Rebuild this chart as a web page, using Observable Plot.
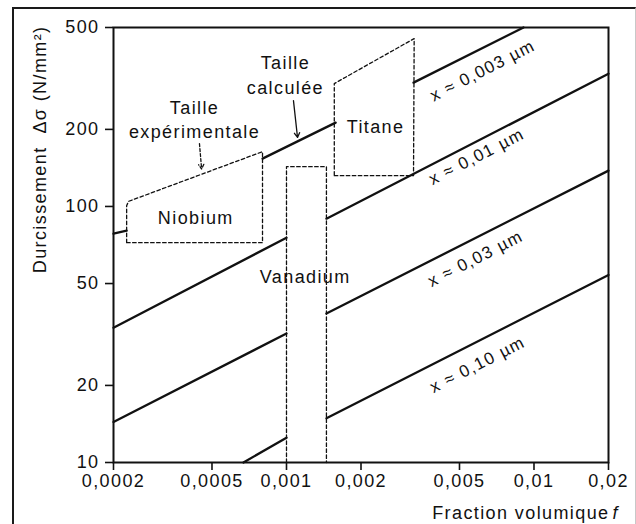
<!DOCTYPE html>
<html><head><meta charset="utf-8">
<script src="https://cdn.jsdelivr.net/npm/d3@7"></script>
<script src="https://cdn.jsdelivr.net/npm/@observablehq/plot@0.6"></script>
<style>
html,body{margin:0;padding:0;background:#fff;overflow:hidden;}
#wrap{position:relative;width:636px;height:524px;}
#wrap svg{position:absolute;left:0;top:0;}
#border{position:absolute;left:12px;top:7px;width:621px;height:600px;border-left:2px solid #1a1a1a;border-top:2px solid #1a1a1a;border-right:1px solid #c8c8c8;pointer-events:none;}
</style></head><body>
<div id="wrap"></div>
<script>
// Axis ticks
const fractionTicks = [0.0002, 0.0005, 0.001, 0.002, 0.005, 0.01, 0.02];
const hardeningTicks = [10, 20, 50, 100, 200, 500];

// Calculated hardening lines (segments of [fraction, hardening])
const sizes = ["0,003", "0,01", "0,03", "0,10"];
const line003 = [[[0.0002, 78.3], [0.000226, 80.4]], [[0.0008, 153.8], [0.00158, 212.6]], [[0.00326, 304.6], [0.00907, 500]]];
const line01  = [[[0.0002, 33.6], [0.001, 75.5]], [[0.00145, 89.6], [0.02, 330]]];
const line03  = [[[0.0002, 14.4], [0.001, 31.9]], [[0.00145, 38.2], [0.02, 138]]];
const line10  = [[[0.00067, 10], [0.001, 12.5]], [[0.00145, 14.9], [0.02, 54]]];
const sizeLines = [line003, line01, line03, line10];

// Experimental domains (dashed outlines)
const metals = ["Niobium", "Titane", "Vanadium"];
const niobium  = [[0.000226, 72.2], [0.0008, 72.2], [0.0008, 163.7], [0.00023, 104.7], [0.000226, 100.7], [0.000226, 72.2]];
const titane   = [[0.00156, 131.9], [0.00326, 131.9], [0.00328, 452.6], [0.00156, 302], [0.00156, 131.9]];
const vanadium = [[0.001, 10], [0.001, 143], [0.00145, 143], [0.00145, 10]];
const outlines = [niobium, titane, vanadium];

// Label anchor points (data coordinates)
const metalLabelAt = [[0.00043, 85.6], [0.00229, 194.3], [0.00119, 50.4]];
const sizeLabelAt = [[0.0062, 339], [0.00586, 156.5], [0.0058, 62.5], [0.00591, 24.1]];
const noteTexts = ["Taille", "expérimentale", "Taille", "calculée"];
const noteAt = [[0.000425, 230.5], [0.000425, 185.7], [0.00099, 345.5], [0.00099, 275.9]];
const expArrow = [[0.000445, 176], [0.000454, 140]];
const calcArrow = [[0.001067, 259], [0.001108, 186]];

const fmt = d => String(d).replace(".", ",");

const lineRows = [];
sizeLines.forEach((segs, i) => segs.forEach((seg, j) => seg.forEach(([f, v]) => lineRows.push({f, v, z: sizes[i] + "-" + j}))));
const outlineRows = [];
outlines.forEach((pts, i) => pts.forEach(([f, v]) => outlineRows.push({f, v, z: metals[i]})));
const metalLabels = metals.map((m, i) => ({text: m, f: metalLabelAt[i][0], v: metalLabelAt[i][1]}));
const sizeLabels = sizes.map((s, i) => ({text: "x ≈ " + s + " µm", f: sizeLabelAt[i][0], v: sizeLabelAt[i][1]}));
const notes = noteTexts.map((t, i) => ({text: t, f: noteAt[i][0], v: noteAt[i][1]}));
const arrows = [
  {f1: expArrow[0][0], v1: expArrow[0][1], f2: expArrow[1][0], v2: expArrow[1][1], dash: "3,2"},
  {f1: calcArrow[0][0], v1: calcArrow[0][1], f2: calcArrow[1][0], v2: calcArrow[1][1], dash: null}
];

const chart = Plot.plot({
  width: 636, height: 524,
  marginLeft: 113, marginRight: 28, marginTop: 27, marginBottom: 62,
  style: {fontFamily: "'Liberation Sans', Arial, sans-serif", fontSize: "18px", letterSpacing: "1.4px", background: "transparent", color: "#111"},
  x: {type: "log", domain: [0.0002, 0.02]},
  y: {type: "log", domain: [10, 500]},
  marks: [
    Plot.line(outlineRows, {x: "f", y: "v", z: "z", stroke: "#111", strokeWidth: 1.3, strokeDasharray: "3.5,2.5"}),
    Plot.line(lineRows, {x: "f", y: "v", z: "z", stroke: "#111", strokeWidth: 2.3}),
    Plot.frame({stroke: "#111", strokeWidth: 2}),
    Plot.axisX({ticks: fractionTicks, tickFormat: fmt, tickSize: 8, tickPadding: 4, label: null, strokeWidth: 1.6}),
    Plot.axisY({ticks: hardeningTicks, tickFormat: fmt, tickSize: 8, tickPadding: 6, label: null, strokeWidth: 1.6}),
    Plot.text(metalLabels, {x: "f", y: "v", text: "text", lineAnchor: "bottom", fill: "#111"}),
    Plot.text(notes, {x: "f", y: "v", text: "text", lineAnchor: "bottom", fill: "#111"}),
    Plot.text(sizeLabels, {x: "f", y: "v", text: "text", rotate: -27, fontSize: 17, fill: "#111"}),
    Plot.arrow(arrows.filter(a => a.dash), {x1: "f1", y1: "v1", x2: "f2", y2: "v2", stroke: "#111", strokeWidth: 1.3, strokeDasharray: "3,2", headLength: 6}),
    Plot.arrow(arrows.filter(a => !a.dash), {x1: "f1", y1: "v1", x2: "f2", y2: "v2", stroke: "#111", strokeWidth: 1.3, headLength: 6}),
    Plot.text(["Durcissement  Δσ (N/mm²)"], {frameAnchor: "top-left", text: d => d, rotate: -90, textAnchor: "end", lineAnchor: "middle", dx: -73, dy: -2, fill: "#111"}),
    Plot.text(["Fraction volumique"], {frameAnchor: "bottom-right", text: d => d, textAnchor: "end", lineAnchor: "bottom", dy: 56, dx: 1, fill: "#111"}),
    Plot.text(["f"], {frameAnchor: "bottom-right", text: d => d, textAnchor: "start", lineAnchor: "bottom", dy: 56, dx: 4, fontStyle: "italic", fill: "#111"})
  ]
});
const wrap = document.getElementById("wrap");
wrap.appendChild(chart);
const border = document.createElement("div");
border.id = "border";
wrap.appendChild(border);
</script>
</body></html>
